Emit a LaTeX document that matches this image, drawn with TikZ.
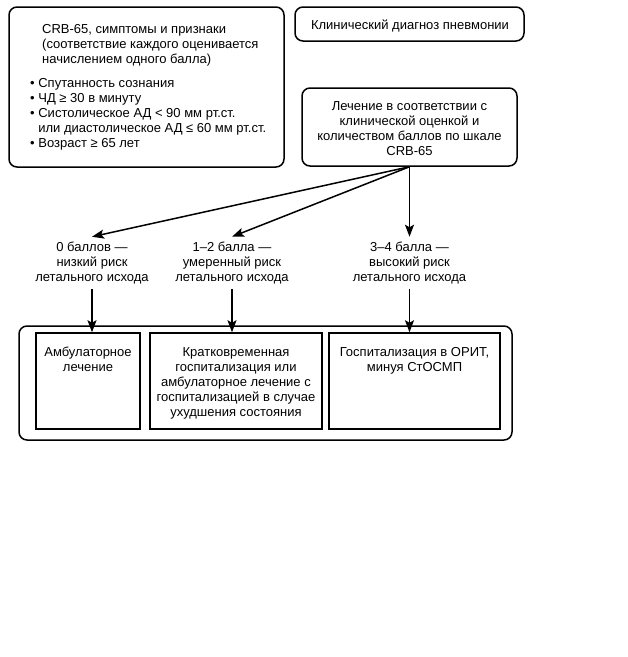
\documentclass[tikz,border=0pt]{standalone}
\usepackage{fontspec}
\setmainfont{Liberation Sans}
\usetikzlibrary{arrows.meta}
\tikzset{
  rbox/.style={draw, line width=1.5pt, rounded corners=8pt, inner sep=0pt},
  sbox/.style={draw, line width=1.5pt, inner sep=0pt},
  txt/.style={inner sep=0pt, font=\fontsize{13}{15}\selectfont},
  lab/.style={txt, align=center, inner sep=5pt},
  arr/.style={-{Stealth[length=12pt,width=9pt,inset=2.5pt]}, line width=1.5pt},
}
\begin{document}
\begin{tikzpicture}[x=1pt,y=-1pt]
\useasboundingbox[fill=white] (0,0) rectangle (628,657);
% top boxes
\node[rbox, minimum width=275pt, minimum height=160pt] (b1) at (146.5,87) {};
\node[txt, anchor=north west, align=left] (h1) at (42,24)
  {CRB-65, симптомы и признаки\\(соответствие каждого оценивается\\начислением одного балла)};
\node[txt, anchor=north west, align=left] (bl) at (30,78)
  {• Спутанность сознания\\• ЧД ≥ 30 в минуту\\• Систолическое АД < 90 мм рт.ст.\\\phantom{• }или диастолическое АД ≤ 60 мм рт.ст.\\• Возраст ≥ 65 лет};
\node[rbox, minimum width=229pt, minimum height=34pt] (b2) at (409.5,24) {};
\node[txt] (t2) at (410,26) {Клинический диагноз пневмонии};
\node[rbox, minimum width=215pt, minimum height=78pt] (b3) at (409.5,127) {};
\node[txt, align=center] (t3) at (409.5,129)
  {Лечение в соответствии с\\клинической оценкой и\\количеством баллов по шкале\\CRB-65};
% risk labels
\node[lab] (l0) at (92,263) {0 баллов —\\низкий риск\\летального исхода};
\node[lab] (l1) at (232,263) {1–2 балла —\\умеренный риск\\летального исхода};
\node[lab] (l2) at (409.5,263) {3–4 балла —\\высокий риск\\летального исхода};
% container and inner boxes
\node[rbox, minimum width=493pt, minimum height=114pt] (cont) at (265.5,383) {};
\node[sbox, minimum width=104pt, minimum height=96pt] (A) at (88,381) {};
\node[sbox, minimum width=172pt, minimum height=96pt] (B) at (236,381) {};
\node[sbox, minimum width=171pt, minimum height=96pt] (C) at (414.5,381) {};
\node[txt, anchor=north, align=center] (ta) at (88,347) {Амбулаторное\\лечение};
\node[txt, anchor=north, align=center] (tb) at (236,347)
  {Кратковременная\\госпитализация или\\амбулаторное лечение с\\госпитализацией в случае\\ухудшения состояния};
\node[txt, anchor=north, align=center] (tc) at (414.5,347) {Госпитализация в ОРИТ,\\минуя СтОСМП};
% arrows
\draw[arr] (b3.south) -- (l0.north);
\draw[arr] (b3.south) -- (l1.north);
\draw[arr] (b3.south) -- (l2.north);
\draw[arr] (l0.south) -- (l0.south |- A.north);
\draw[arr] (l1.south) -- (l1.south |- B.north);
\draw[arr] (l2.south) -- (l2.south |- C.north);
\end{tikzpicture}
\end{document}
